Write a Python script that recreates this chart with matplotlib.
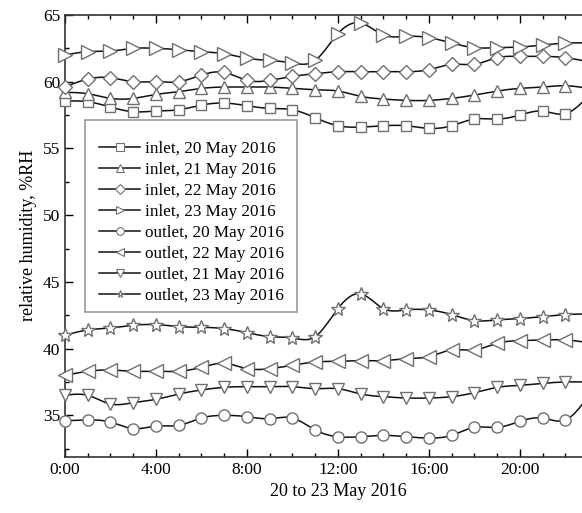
#!/usr/bin/env python3
"""Relative humidity at inlet/outlet, 20-23 May 2016."""

import numpy as np
import matplotlib
matplotlib.use('Agg')
import matplotlib.pyplot as plt
from matplotlib.patches import Rectangle
from matplotlib.ticker import MultipleLocator, FixedLocator

plt.rcParams['font.family'] = ['Liberation Serif', 'DejaVu Serif']

hours = list(range(24))

inlet_20 = [58.55, 58.5, 58.1, 57.75, 57.8, 57.9, 58.25, 58.4, 58.2, 58.0, 57.9, 57.3,
            56.7, 56.6, 56.7, 56.7, 56.5, 56.7, 57.2, 57.2, 57.5, 57.8, 57.6, 58.9]
inlet_21 = [59.2, 59.1, 58.75, 58.75, 59.05, 59.25, 59.5, 59.6, 59.6, 59.6, 59.5, 59.4,
            59.3, 58.9, 58.7, 58.6, 58.6, 58.75, 59.0, 59.3, 59.5, 59.6, 59.7, 59.5]
inlet_22 = [59.6, 60.2, 60.3, 60.0, 60.0, 60.0, 60.5, 60.7, 60.1, 60.1, 60.4, 60.6,
            60.75, 60.75, 60.75, 60.75, 60.9, 61.3, 61.3, 61.8, 61.9, 61.9, 61.8, 61.5]
inlet_23 = [62.0, 62.25, 62.3, 62.5, 62.5, 62.4, 62.25, 62.1, 61.75, 61.6, 61.4, 61.6,
            63.6, 64.4, 63.5, 63.4, 63.3, 62.9, 62.55, 62.55, 62.6, 62.75, 62.9, 62.9]
outlet_20 = [34.6, 34.65, 34.5, 34.0, 34.2, 34.25, 34.8, 35.0, 34.9, 34.75, 34.8, 33.9,
             33.4, 33.4, 33.5, 33.4, 33.3, 33.5, 34.1, 34.1, 34.55, 34.8, 34.65, 36.4]
outlet_22 = [38.0, 38.3, 38.4, 38.3, 38.3, 38.3, 38.6, 38.9, 38.5, 38.5, 38.75, 39.0,
             39.05, 39.1, 39.1, 39.25, 39.4, 39.9, 39.9, 40.4, 40.6, 40.65, 40.65, 40.45]
outlet_21 = [36.5, 36.5, 35.85, 35.95, 36.2, 36.6, 36.9, 37.1, 37.15, 37.15, 37.15, 37.0,
             37.0, 36.6, 36.4, 36.3, 36.3, 36.4, 36.7, 37.1, 37.25, 37.4, 37.5, 37.5]
outlet_23 = [41.0, 41.4, 41.55, 41.75, 41.8, 41.65, 41.6, 41.5, 41.2, 40.9, 40.8, 40.9,
             43.0, 44.1, 43.0, 42.9, 42.9, 42.55, 42.1, 42.15, 42.25, 42.4, 42.55, 42.6]

series = [
    ('inlet, 20 May 2016', inlet_20, 's'),
    ('inlet, 21 May 2016', inlet_21, '^'),
    ('inlet, 22 May 2016', inlet_22, 'D'),
    ('inlet, 23 May 2016', inlet_23, '>'),
    ('outlet, 20 May 2016', outlet_20, 'o'),
    ('outlet, 22 May 2016', outlet_22, '<'),
    ('outlet, 21 May 2016', outlet_21, 'v'),
    ('outlet, 23 May 2016', outlet_23, '*'),
]
msize = {'s': 7.5, '^': 9, 'D': 7, '>': 9.5, 'o': 8, '<': 9.5, 'v': 9, '*': 10}


def smooth(x, y, n=12):
    # natural cubic spline through the points, just for the drawn curve
    x = np.asarray(x, float); y = np.asarray(y, float)
    k = len(x); h = np.diff(x)
    A = np.zeros((k, k)); b = np.zeros(k)
    A[0, 0] = A[-1, -1] = 1
    for i in range(1, k - 1):
        A[i, i-1] = h[i-1]; A[i, i] = 2 * (h[i-1] + h[i]); A[i, i+1] = h[i]
        b[i] = 3 * ((y[i+1] - y[i]) / h[i] - (y[i] - y[i-1]) / h[i-1])
    c = np.linalg.solve(A, b)
    xs, ys = [], []
    for i in range(k - 1):
        bb = (y[i+1] - y[i]) / h[i] - h[i] * (2 * c[i] + c[i+1]) / 3
        d = (c[i+1] - c[i]) / (3 * h[i])
        t = np.linspace(0, h[i], n, endpoint=False)
        xs.append(x[i] + t); ys.append(y[i] + bb*t + c[i]*t**2 + d*t**3)
    xs.append([x[-1]]); ys.append([y[-1]])
    return np.concatenate(xs), np.concatenate(ys)


fig = plt.figure(figsize=(5.82, 5.13), dpi=100)
ax = fig.add_axes([0.1117, 0.1097, 0.8883 + 0.05, 0.8611])

for label, vals, m in series:
    sx, sy = smooth(hours, vals)
    ax.plot(sx, sy, '-', color='#111111', lw=1.1, zorder=2)
    ax.plot(hours[:23], vals[:23], m, ls='none', ms=msize[m], mfc='white',
            mec='#707070', mew=1.0, zorder=3, clip_on=False)

# legend proxies
handles = []
for label, vals, m in series:
    h, = ax.plot([], [], '-', color='#111111', lw=1.1, marker=m, ms=5.5,
                 mfc='white', mec='#707070', mew=0.8, label=label)
    handles.append(h)
leg = ax.legend(handles=handles, loc='upper left', bbox_to_anchor=(0.044, 0.7374),
                borderaxespad=0, fontsize=12.3, frameon=False,
                handlelength=2.4, handletextpad=0.3, labelspacing=0.29,
                borderpad=0.6)
# legend frame (a bit more room on top than below, as in the original)
ax.add_patch(Rectangle((0.0366, 0.3276), 0.3882, 0.4347, transform=ax.transAxes,
                       facecolor='white', edgecolor='#999999', lw=1.2, zorder=4))
leg.set_zorder(5)

ax.set_xlim(0, 22.73 + 0.05 * 22.73 / 0.8883)
ax.set_ylim(31.9, 65)
ax.xaxis.set_major_locator(FixedLocator([0, 4, 8, 12, 16, 20]))
ax.set_xticklabels(['0:00', '4:00', '8:00', '12:00', '16:00', '20:00'])
ax.xaxis.set_minor_locator(MultipleLocator(1))
ax.yaxis.set_major_locator(MultipleLocator(5))
ax.yaxis.set_minor_locator(MultipleLocator(2.5))
ax.tick_params(which='both', direction='in', top=True, right=False, labelsize=12.5)
ax.tick_params(which='major', length=6, width=1)
ax.tick_params(which='minor', length=3, width=1)
ax.spines['right'].set_visible(False)
for s in ('left', 'bottom', 'top'):
    ax.spines[s].set_color('#333333')
    ax.spines[s].set_linewidth(1.2)

ax.set_xlabel('20 to 23 May 2016', fontsize=13, labelpad=4)
ax.set_ylabel('relative humidity, %RH', fontsize=13, labelpad=4)

fig.savefig('out.png', dpi=100)
